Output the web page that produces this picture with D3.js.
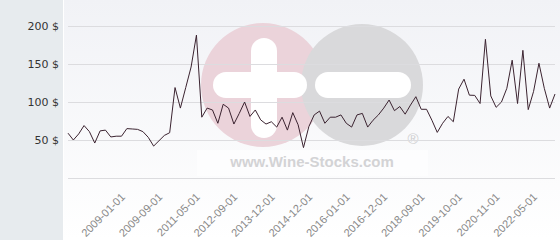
<!DOCTYPE html>
<html>
<head>
<meta charset="utf-8">
<script src="https://cdn.jsdelivr.net/npm/d3@7"></script>
<style>
  body { margin: 0; background: #fff; }
  svg { display: block; }
</style>
</head>
<body>
<script>
let width = 560
let height = 240

// prices in $, one per listed date
let prices = [59, 50, 58, 69, 61, 46, 62, 63, 54, 55, 55, 65, 64.5, 64, 61, 53.5, 42, 49, 56, 59.6,
    119, 92, 119, 146, 188, 80, 92, 89.5, 72, 97, 92, 71, 85, 100, 81, 89.5, 76.5, 71, 74, 67,
    80, 63, 86, 70, 40, 67.5, 83, 88, 72, 80, 80, 83, 72, 67, 83, 85, 67, 76, 83, 92,
    102.6, 88.6, 94, 84, 96, 107, 90.4, 90.4, 76, 60, 72, 81, 74, 117, 130, 109, 108.7, 98, 182.5, 108,
    93, 100, 118, 155, 98, 168, 90, 114, 151, 118, 92, 110.5]

let tickIndex = [10, 17, 24, 31, 38, 45, 52, 59, 66, 73, 80, 87]
let tickLabels = ["2009-01-01", "2009-09-01", "2011-05-01", "2012-09-01", "2013-12-01", "2014-12-01",
    "2016-01-01", "2016-12-01", "2018-09-01", "2019-10-01", "2020-11-01", "2022-05-01"]
let yTicks = [0, 50, 100, 150, 200]

let svg = d3.select("body")
    .append("svg")
    .attr("width", width)
    .attr("height", height)

let defs = svg.append("defs")
let grad = defs.append("linearGradient")
    .attr("id", "bg")
    .attr("x1", 0).attr("y1", 0).attr("x2", 0).attr("y2", 1)
grad.append("stop").attr("offset", "0%").attr("stop-color", "#f1f2f6")
grad.append("stop").attr("offset", "100%").attr("stop-color", "#ffffff")

// left panel and plot background
svg.append("rect").attr("width", width).attr("height", height).attr("fill", "#fff")
svg.append("rect").attr("x", 0).attr("y", 0).attr("width", 63).attr("height", height).attr("fill", "#e7ebee")
svg.append("rect").attr("x", 64).attr("y", 0).attr("width", width - 64).attr("height", height).attr("fill", "url(#bg)")

let x = d3.scalePoint()
    .domain(d3.range(prices.length))
    .range([68, 555])

let y = d3.scaleLinear()
    .domain([0, 200])
    .range([178, 26])

// watermark
let wm = svg.append("g")
wm.append("rect").attr("x", 197).attr("y", 150).attr("width", 231).attr("height", 26)
    .attr("fill", "#fff").attr("opacity", 0.5)
wm.append("circle").attr("cx", 263).attr("cy", 85).attr("r", 62).attr("fill", "#ebd3da")
wm.append("circle").attr("cx", 362).attr("cy", 85).attr("r", 61).attr("fill", "#d9d9db")
wm.append("rect").attr("x", 251).attr("y", 38).attr("width", 26).attr("height", 100).attr("rx", 13)
    .attr("fill", "#fff")
wm.append("rect").attr("x", 213).attr("y", 72).attr("width", 94).attr("height", 26).attr("rx", 13)
    .attr("fill", "#fff")
wm.append("rect").attr("x", 315).attr("y", 72).attr("width", 96).attr("height", 26).attr("rx", 13)
    .attr("fill", "#fff")
wm.append("text").attr("x", 312).attr("y", 167)
    .attr("text-anchor", "middle")
    .attr("font-family", "Liberation Sans, Arial, sans-serif")
    .attr("font-weight", "bold")
    .attr("font-size", 15)
    .attr("fill", "#d3d3d5")
    .text("www.Wine-Stocks.com")
wm.append("text").attr("x", 413).attr("y", 144)
    .attr("text-anchor", "middle")
    .attr("font-family", "Liberation Sans, Arial, sans-serif")
    .attr("font-size", 15)
    .attr("fill", "#cfcfd1")
    .text("®")

// grid lines
svg.append("g")
    .selectAll("line")
    .data(yTicks)
    .enter()
    .append("line")
    .attr("x1", 68)
    .attr("x2", 555)
    .attr("y1", d => Math.round(y(d)) + 0.5)
    .attr("y2", d => Math.round(y(d)) + 0.5)
    .attr("stroke", "#dcdcdf")

// y labels
svg.append("g")
    .selectAll("text")
    .data(yTicks.filter(d => d > 0))
    .enter()
    .append("text")
    .attr("x", 59)
    .attr("y", d => y(d))
    .attr("dy", "0.35em")
    .attr("text-anchor", "end")
    .attr("font-family", "DejaVu Sans, sans-serif")
    .attr("font-size", 11)
    .attr("fill", "#333")
    .text(d => d + " $")

// x labels
let xAxis = d3.axisBottom(x)
    .tickValues(tickIndex)
    .tickSize(0)
    .tickFormat((d, i) => tickLabels[i])

let gx = svg.append("g")
    .attr("transform", "translate(0,195)")
    .call(xAxis)
gx.select(".domain").remove()
gx.selectAll("text")
    .attr("y", 0)
    .attr("dy", "0.35em")
    .attr("transform", "translate(1,0) rotate(-45)")
    .attr("text-anchor", "end")
    .attr("font-family", "Liberation Sans, Arial, sans-serif")
    .attr("font-size", 11)
    .attr("fill", "#888")

// price line
let line = d3.line()
    .x((d, i) => x(i))
    .y(d => y(d))

svg.append("path")
    .datum(prices)
    .attr("fill", "none")
    .attr("stroke", "#3b2330")
    .attr("stroke-width", 1)
    .attr("d", line)
</script>
</body>
</html>
